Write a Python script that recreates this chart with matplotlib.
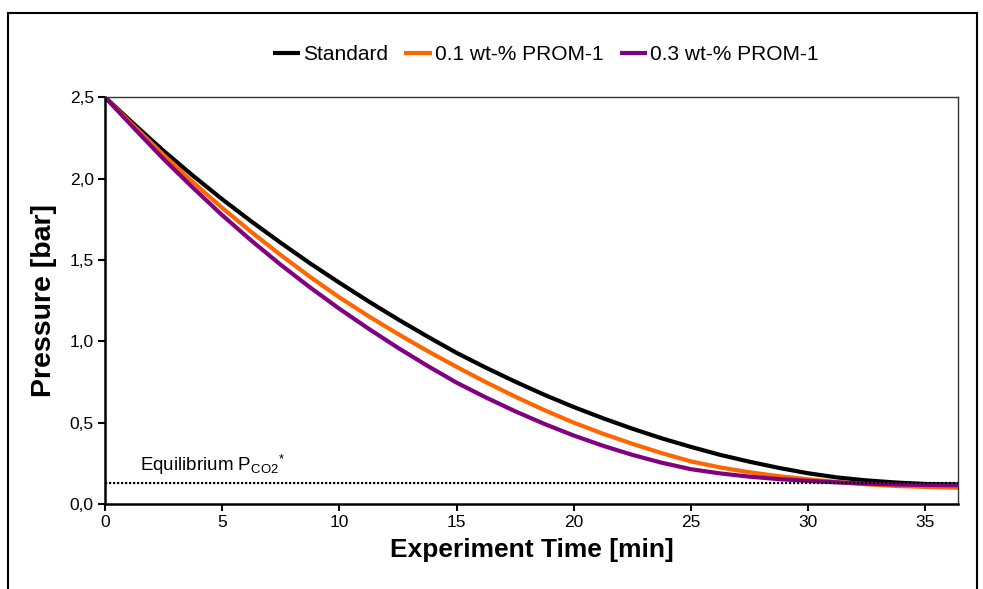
import matplotlib
matplotlib.use("Agg")
import matplotlib.pyplot as plt
from matplotlib.lines import Line2D

plt.rcParams['font.family'] = ['Liberation Sans', 'DejaVu Sans']
plt.rcParams['mathtext.fontset'] = 'custom'
plt.rcParams['mathtext.rm'] = 'Liberation Sans'
plt.rcParams['mathtext.it'] = 'Liberation Sans'

# values (minutes, bar)
time_min = [0, 1.25, 2.5, 3.75, 5, 6.25, 7.5, 8.75, 10, 11.25, 12.5, 13.75, 15, 16.25,
            17.5, 18.75, 20, 21.25, 22.5, 23.75, 25, 26.25, 27.5, 28.75, 30, 31.25,
            32.5, 33.75, 35, 36.4]
p_standard = [2.5, 2.333, 2.17, 2.018, 1.873, 1.736, 1.605, 1.479, 1.36, 1.245, 1.135,
              1.03, 0.929, 0.838, 0.752, 0.671, 0.596, 0.527, 0.463, 0.404, 0.351,
              0.302, 0.26, 0.222, 0.189, 0.163, 0.145, 0.132, 0.123, 0.12]
p_prom01 = [2.5, 2.32, 2.145, 1.978, 1.82, 1.671, 1.53, 1.396, 1.27, 1.154, 1.045,
            0.941, 0.843, 0.749, 0.66, 0.577, 0.50, 0.432, 0.37, 0.313, 0.262,
            0.225, 0.195, 0.171, 0.152, 0.135, 0.121, 0.111, 0.105, 0.10]
p_prom03 = [2.5, 2.308, 2.12, 1.944, 1.775, 1.618, 1.47, 1.331, 1.20, 1.077, 0.96,
            0.85, 0.746, 0.655, 0.57, 0.492, 0.421, 0.358, 0.302, 0.254, 0.214,
            0.188, 0.168, 0.153, 0.142, 0.133, 0.125, 0.12, 0.117, 0.115]
p_equilibrium = 0.13

series_names = ["Standard", "0.1 wt-% PROM-1", "0.3 wt-% PROM-1"]
series_colors = ["#000000", "#FF6600", "#800080"]

x_ticks = [0, 5, 10, 15, 20, 25, 30, 35]
y_ticks = [0.0, 0.5, 1.0, 1.5, 2.0, 2.5]
y_ticklabels = ["0,0", "0,5", "1,0", "1,5", "2,0", "2,5"]

fig = plt.figure(figsize=(9.83, 5.89), dpi=100)
ax = fig.add_axes([0.1068, 0.1443, 0.8678, 0.6907])

for ys, name, col in zip([p_standard, p_prom01, p_prom03], series_names, series_colors):
    ax.plot(time_min, ys, color=col, lw=3, label=name, solid_capstyle='butt',
            solid_joinstyle='round')

ax.plot([time_min[0], time_min[-1]], [p_equilibrium, p_equilibrium], color='black',
        lw=1.6, linestyle=(0, (1, 0.8)), zorder=5)
ax.text(1.5, 0.205, "Equilibrium P$_{\\mathrm{CO2}}$$^{*}$", fontsize=13.5, va='baseline')

ax.set_xlim(0, 36.4)
ax.set_ylim(0, 2.5)
ax.set_xticks(x_ticks)
ax.set_yticks(y_ticks)
ax.set_yticklabels(y_ticklabels)
ax.tick_params(direction='out', length=5, width=1.5, labelsize=12.5, pad=3)
for s in ['left', 'bottom']:
    ax.spines[s].set_linewidth(1.8)
for s in ['top', 'right']:
    ax.spines[s].set_linewidth(1.0)
    ax.spines[s].set_color('#333333')

ax.set_xlabel("Experiment Time [min]", fontsize=19, fontweight='bold', labelpad=6)
ax.set_ylabel("Pressure [bar]", fontsize=20.5, fontweight='bold', labelpad=9)

fig.legend(loc='center', bbox_to_anchor=(0.555, 0.907), ncol=3, frameon=False,
           fontsize=15, handlelength=1.3, handletextpad=0.15, columnspacing=0.8)

# outer chart frame
fig.add_artist(Line2D([0.008, 0.994], [0.978, 0.978], color='black', lw=1.5, transform=fig.transFigure))
fig.add_artist(Line2D([0.008, 0.008], [0.0, 0.978], color='black', lw=1.5, transform=fig.transFigure))
fig.add_artist(Line2D([0.994, 0.994], [0.0, 0.978], color='black', lw=1.5, transform=fig.transFigure))

fig.savefig("out.png", dpi=100)
